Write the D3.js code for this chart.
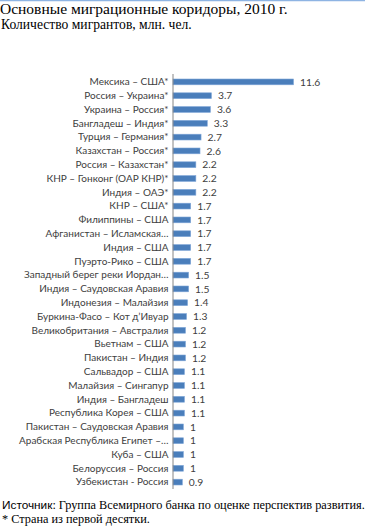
<!DOCTYPE html>
<html><head><meta charset="utf-8">
<script src="https://cdn.jsdelivr.net/npm/d3@7"></script>
<style>body{margin:0;background:#fff}svg{display:block}</style>
</head><body>
<script>
const categories = ["Мексика – США*","Россия – Украина*","Украина – Россия*","Бангладеш – Индия*","Турция – Германия*","Казахстан – Россия*","Россия – Казахстан*","КНР – Гонконг (ОАР КНР)*","Индия – ОАЭ*","КНР – США*","Филиппины – США","Афганистан – Исламская…","Индия – США","Пуэрто-Рико – США","Западный берег реки Иордан…","Индия – Саудовская  Аравия","Индонезия – Малайзия","Буркина-Фасо – Кот д’Ивуар","Великобритания – Австралия","Вьетнам – США","Пакистан – Индия","Сальвадор – США","Малайзия – Сингапур","Индия – Бангладеш","Республика Корея – США","Пакистан – Саудовская  Аравия","Арабская Республика Египет –…","Куба – США","Белоруссия – Россия","Узбекистан - Россия"];
const values = [11.6,3.7,3.6,3.3,2.7,2.6,2.2,2.2,2.2,1.7,1.7,1.7,1.7,1.7,1.5,1.5,1.4,1.3,1.2,1.2,1.2,1.1,1.1,1.1,1.1,1,1,1,1,0.9];
const title = "Основные миграционные коридоры, 2010 г.";
const subtitle = "Количество мигрантов, млн. чел.";

const W = 365, H = 530;
const svg = d3.select("body").append("svg").attr("width", W).attr("height", H);

svg.append("line").attr("x1",0).attr("x2",W).attr("y1",0.5).attr("y2",0.5)
  .attr("stroke","#8eb4e3").attr("stroke-width",1.5);

svg.append("text").attr("x",0).attr("y",14).text(title)
  .attr("font-family","Liberation Serif").attr("font-size",15.5).attr("fill","#000");
svg.append("text").attr("x",1).attr("y",29).text(subtitle)
  .attr("font-family","Liberation Serif").attr("font-size",13.6).attr("fill","#000");

const x0 = 172.5, plotTop = 75, plotBottom = 489;
const x = d3.scaleLinear().domain([0, 11.6]).range([x0, 293]);
const y = d3.scaleBand().domain(categories).range([plotTop, plotBottom]).paddingInner(0.58).paddingOuter(0.29);

const g = svg.append("g");
g.selectAll("rect.bar").data(values).join("rect")
  .attr("x", x(0)+0.5).attr("y",(d,i)=>y(categories[i]))
  .attr("width", d=>x(d)-x(0)).attr("height", y.bandwidth())
  .attr("fill","#4a7ebb").attr("stroke","#7ea6d8").attr("stroke-width",0.6);

const yAxis = d3.axisLeft(y).tickSize(0).tickPadding(4);
const ax = svg.append("g").attr("transform",`translate(${x0},0)`).call(yAxis);
ax.select(".domain").attr("stroke","#868686").attr("d",`M0.5,${plotTop-1}V${plotBottom}`);
ax.selectAll("text").attr("font-family","Lato").attr("font-size",10).attr("fill","#404040");

g.selectAll("text.val").data(values).join("text")
  .attr("x", d=>x(d)+7).attr("y",(d,i)=>y(categories[i])+y.bandwidth()/2)
  .attr("dy","0.35em").text(d=>d)
  .attr("font-family","Lato").attr("font-size",10.3).attr("fill","#404040");

const f1 = svg.append("text").attr("x",2).attr("y",509).attr("font-size",12.3).attr("fill","#000");
f1.append("tspan").attr("font-family","Liberation Sans").attr("font-size",11.8).text("Источник");
f1.append("tspan").attr("font-family","Liberation Serif").text(": Группа Всемирного банка по оценке перспектив развития.");
svg.append("text").attr("x",2).attr("y",523).attr("font-family","Liberation Serif").attr("font-size",12.3).text("* Страна из первой десятки.");
</script>
</body></html>
